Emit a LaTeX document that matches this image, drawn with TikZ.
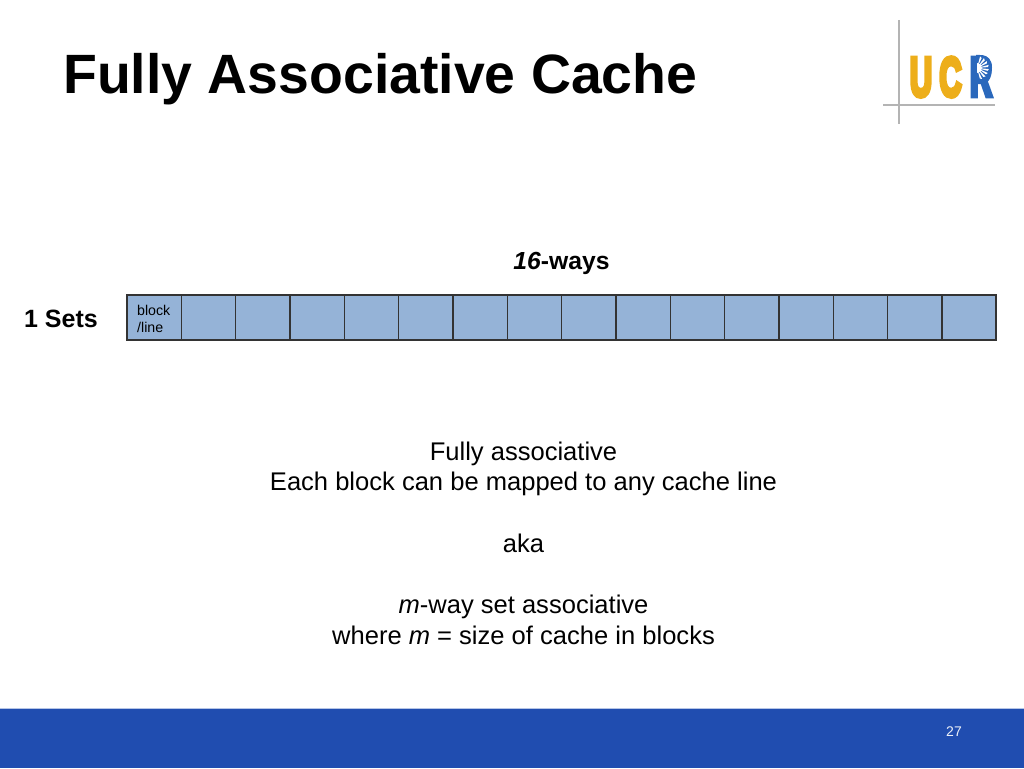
\documentclass[tikz,border=0pt]{standalone}
\usepackage{fontspec}
\usetikzlibrary{calc}
\setmainfont{Liberation Sans}
\newfontfamily\logofont[FakeBold=9]{Liberation Sans Bold}
\definecolor{cellblue}{HTML}{95B3D7}
\definecolor{barblue}{HTML}{204DB0}
\definecolor{barline}{HTML}{B5C5E6}
\definecolor{ucrgold}{HTML}{EDAE1A}
\definecolor{ucrblue}{HTML}{2A68BC}
\definecolor{loggrey}{HTML}{B4B4B4}
\tikzset{
  cellbox/.style={draw=black!80,line width=1.6pt,fill=cellblue,minimum width=54.33pt,minimum height=45pt,inner sep=0pt,outer sep=0pt,anchor=north west},
  bodytext/.style={font=\fontsize{25.55}{31}\selectfont,align=center,inner sep=0pt},
  logoletter/.style={font=\logofont\fontsize{55}{55}\selectfont,inner sep=0pt,anchor=base}
}
\begin{document}
\begin{tikzpicture}[x=1pt,y=-1pt]
\useasboundingbox (0,0) rectangle (1024,768);
\fill[barblue] (0,708) rectangle (1024,768);
\draw[barline,line width=1pt] (0,708) -- (1024,708);
\node[inner sep=0pt,anchor=base west,font=\bfseries\fontsize{55.4}{60}\selectfont] (title) at (63,93) {Fully Associative Cache};
% logo
\draw[loggrey,line width=1.6pt] (899,20) -- (899,124);
\draw[loggrey,line width=1.6pt] (883,105) -- (995,105);
\node[logoletter,text=ucrgold,xscale=.56] (u) at (921,96) {U};
\node[logoletter,text=ucrgold,xscale=.56] (c) at (950.5,96) {C};
\node[logoletter,text=ucrblue,xscale=.56] (r) at (981,96) {R};
\fill[ucrblue] (976,55) -- (980,55) .. controls (988,55) and (992,60) .. (992,67.5) .. controls (992,75) and (988,80) .. (980,80) -- (976,80) -- cycle;
\foreach \a in {-75,-55,-35,-15,5,25,45,65}
  \fill[white] (977,68) -- ($(977,68)+(\a:12)$) -- ($(977,68)+(\a+10:11)$) -- cycle;
\fill[white] (977,68) ++(0,-5) arc (-90:90:5) -- cycle;
% labels
\node[inner sep=0pt,anchor=base,font=\bfseries\fontsize{24.7}{30}\selectfont] (ways) at (561.5,269) {\textit{16}-ways};
\node[inner sep=0pt,anchor=base,font=\bfseries\fontsize{25}{30}\selectfont] (sets) at (61,327) {1 Sets};
% cells
\foreach \i in {0,...,15}
  \node[cellbox] (cell\i) at ({127+54.33*\i},295) {};
\node[inner sep=0pt,anchor=base west,font=\fontsize{14.2}{17}\selectfont] at (137,315) {block};
\node[inner sep=0pt,anchor=base west,font=\fontsize{14.2}{17}\selectfont] at (137,332) {/line};
% body
\node[bodytext,anchor=base] (b1) at (523.5,460) {Fully associative};
\node[bodytext,anchor=base] (b2) at (523.5,490) {Each block can be mapped to any cache line};
\node[bodytext,anchor=base] (b3) at (523.5,552) {aka};
\node[bodytext,anchor=base] (b4) at (523.5,613) {\textit{m}-way set associative};
\node[bodytext,anchor=base] (b5) at (523.5,644) {where \textit{m} = size of cache in blocks};
\node[inner sep=0pt,anchor=base,text=white!92!barblue,font=\fontsize{14}{16}\selectfont] (pg) at (954,736) {27};
\end{tikzpicture}
\end{document}
